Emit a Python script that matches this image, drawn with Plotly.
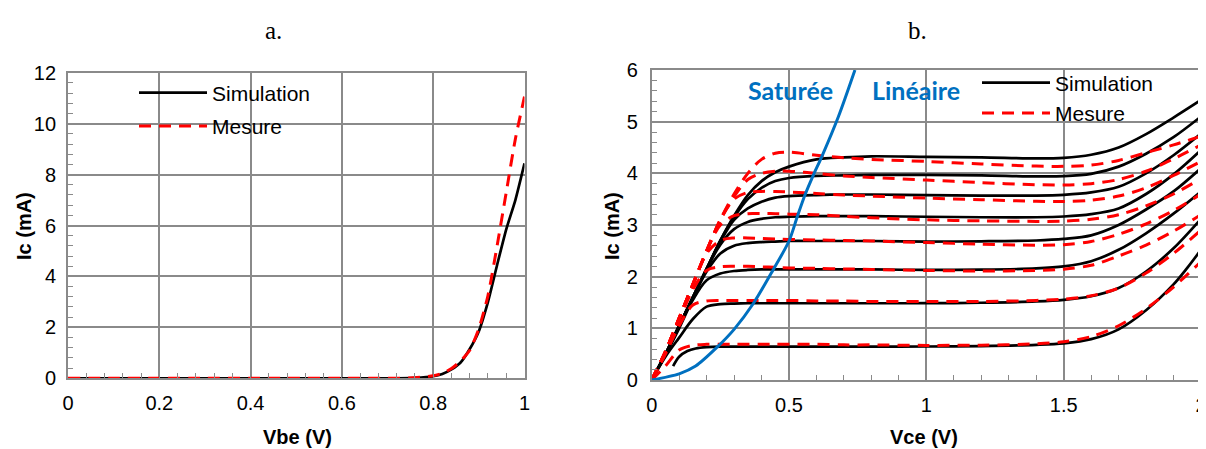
import plotly.graph_objects as go

# ---------------- Data: panel a (Ic vs Vbe) ----------------
VBE = [0, 0.1, 0.2, 0.3, 0.4, 0.5, 0.6, 0.7, 0.76, 0.8, 0.82, 0.84, 0.86, 0.88, 0.9, 0.92, 0.94, 0.96, 0.98, 1.0]
IC_SIM_A = [0, 0, 0, 0, 0, 0, 0, 0, 0.02, 0.08, 0.17, 0.35, 0.62, 1.15, 1.85, 3.0, 4.45, 5.85, 7.0, 8.44]
IC_MES_A = [0, 0, 0, 0, 0, 0, 0, 0, 0.02, 0.1, 0.2, 0.38, 0.68, 1.1, 1.95, 3.25, 5.2, 7.3, 9.4, 11.06]

# ---------------- Data: panel b (Ic vs Vce) ----------------
VCE = [0, 0.05, 0.1, 0.15, 0.2, 0.25, 0.3, 0.35, 0.4, 0.45, 0.5, 0.6, 0.7, 0.8,
       1.0, 1.2, 1.4, 1.5, 1.6, 1.7, 1.8, 1.9, 2.0]

VCE_S1 = [0.078, 0.1, 0.13, 0.16, 0.2, 0.25, 0.3, 0.4, 0.5, 0.6, 0.8, 1.0, 1.2, 1.4,
          1.5, 1.6, 1.7, 1.8, 1.9, 1.95, 2.0]
SIM_1 = [0.27, 0.45, 0.56, 0.61, 0.635, 0.645, 0.645, 0.645, 0.645, 0.645, 0.645, 0.648,
         0.655, 0.68, 0.71, 0.79, 0.98, 1.35, 1.85, 2.17, 2.52]
SIM_2 = [0, 0.45, 0.82, 1.18, 1.42, 1.47, 1.48, 1.485, 1.485, 1.485, 1.485, 1.485, 1.485,
         1.485, 1.487, 1.495, 1.52, 1.55, 1.62, 1.78, 2.1, 2.55, 3.12]
SIM_3 = [0, 0.48, 1.0, 1.55, 1.93, 2.06, 2.11, 2.13, 2.14, 2.14, 2.14, 2.14, 2.14, 2.14,
         2.13, 2.135, 2.16, 2.2, 2.3, 2.52, 2.84, 3.22, 3.65]
SIM_4 = [0, 0.5, 1.05, 1.6, 2.1, 2.45, 2.6, 2.65, 2.67, 2.68, 2.69, 2.69, 2.69, 2.69,
         2.68, 2.685, 2.7, 2.73, 2.8, 3.0, 3.3, 3.65, 4.1]
SIM_5 = [0, 0.5, 1.05, 1.6, 2.15, 2.62, 2.92, 3.06, 3.12, 3.15, 3.16, 3.17, 3.17, 3.17,
         3.16, 3.15, 3.15, 3.165, 3.21, 3.32, 3.6, 3.98, 4.45]
SIM_6 = [0, 0.5, 1.05, 1.6, 2.15, 2.68, 3.1, 3.32, 3.45, 3.53, 3.56, 3.58, 3.59, 3.59,
         3.58, 3.57, 3.57, 3.585, 3.63, 3.74, 4.0, 4.35, 4.77]
SIM_7 = [0, 0.5, 1.05, 1.6, 2.15, 2.7, 3.15, 3.5, 3.72, 3.85, 3.91, 3.95, 3.96, 3.97,
         3.97, 3.96, 3.94, 3.945, 3.99, 4.13, 4.38, 4.7, 5.1]
SIM_8 = [0, 0.5, 1.05, 1.6, 2.15, 2.7, 3.18, 3.58, 3.85, 4.02, 4.13, 4.27, 4.31, 4.33,
         4.32, 4.31, 4.29, 4.3, 4.36, 4.5, 4.76, 5.08, 5.42]

MES_1 = [0, 0.27, 0.58, 0.67, 0.69, 0.69, 0.69, 0.69, 0.69, 0.69, 0.69, 0.69, 0.68, 0.68,
         0.67, 0.675, 0.7, 0.74, 0.84, 1.05, 1.38, 1.8, 2.29]
MES_2 = [0, 0.5, 1.05, 1.45, 1.53, 1.54, 1.54, 1.54, 1.54, 1.54, 1.54, 1.53, 1.53, 1.52,
         1.52, 1.52, 1.54, 1.565, 1.63, 1.78, 2.07, 2.45, 2.9]
MES_3 = [0, 0.52, 1.15, 1.75, 2.12, 2.19, 2.2, 2.2, 2.19, 2.18, 2.17, 2.16, 2.15, 2.14,
         2.12, 2.11, 2.12, 2.145, 2.22, 2.4, 2.61, 2.88, 3.2]
MES_4 = [0, 0.55, 1.2, 1.85, 2.45, 2.7, 2.75, 2.75, 2.74, 2.73, 2.72, 2.71, 2.7, 2.69,
         2.66, 2.63, 2.61, 2.62, 2.68, 2.82, 3.02, 3.28, 3.6]
MES_5 = [0, 0.55, 1.2, 1.85, 2.5, 3.0, 3.18, 3.22, 3.22, 3.22, 3.21, 3.2, 3.17, 3.14,
         3.1, 3.08, 3.07, 3.075, 3.11, 3.2, 3.37, 3.6, 3.9]
MES_6 = [0, 0.55, 1.2, 1.85, 2.5, 3.1, 3.5, 3.63, 3.65, 3.65, 3.64, 3.61, 3.58, 3.56,
         3.52, 3.49, 3.46, 3.455, 3.48, 3.56, 3.72, 3.96, 4.23]
MES_7 = [0, 0.55, 1.2, 1.85, 2.5, 3.1, 3.55, 3.88, 4.0, 4.04, 4.04, 4.0, 3.95, 3.92,
         3.87, 3.82, 3.78, 3.775, 3.8, 3.88, 4.04, 4.28, 4.55]
MES_8 = [0, 0.55, 1.2, 1.85, 2.5, 3.1, 3.6, 4.0, 4.27, 4.39, 4.41, 4.35, 4.3, 4.27,
         4.23, 4.18, 4.14, 4.135, 4.16, 4.25, 4.4, 4.55, 4.72]

SAT_V = [0, 0.1, 0.16, 0.24, 0.3, 0.37, 0.443, 0.5, 0.53, 0.558, 0.589, 0.619, 0.68, 0.74]
SAT_I = [0, 0.12, 0.27, 0.645, 0.98, 1.48, 2.14, 2.69, 3.16, 3.58, 3.97, 4.32, 5.1, 6.0]

SIM_CURVES = [(VCE_S1, SIM_1), (VCE, SIM_2), (VCE, SIM_3), (VCE, SIM_4),
              (VCE, SIM_5), (VCE, SIM_6), (VCE, SIM_7), (VCE, SIM_8)]
MES_CURVES = [MES_1, MES_2, MES_3, MES_4, MES_5, MES_6, MES_7, MES_8]

# ---------------- Styles ----------------
BLACK = "#000000"
RED = "#FF0000"
BLUE = "#0070C0"
GRID = "#8A8A8A"
SANS = "Liberation Sans, Arial, sans-serif"
SERIF = "Liberation Serif, Times New Roman, serif"
DASH = "12px,8px"
W, H = 1206, 449
OFF = 8  # the page places the figure 8 px from the window's top-left corner


def px_x(p):
    return (p - OFF) / W


def px_y(p):
    return (H - (p - OFF)) / H


fig = go.Figure()

# panel a
fig.add_trace(go.Scatter(x=VBE, y=IC_SIM_A, mode="lines", name="Simulation",
                         line=dict(color=BLACK, width=2.7, shape="spline", smoothing=0.6),
                         xaxis="x", yaxis="y", legend="legend", legendgroup="simA"))
fig.add_trace(go.Scatter(x=VBE, y=IC_MES_A, mode="lines", name="Mesure",
                         line=dict(color=RED, width=3, dash=DASH, shape="spline", smoothing=0.6),
                         xaxis="x", yaxis="y", legend="legend", legendgroup="mesA"))

# panel b
for i, (vx, vy) in enumerate(SIM_CURVES):
    fig.add_trace(go.Scatter(x=vx, y=vy, mode="lines", name="Simulation",
                             line=dict(color=BLACK, width=2.7, shape="spline", smoothing=0.9),
                             xaxis="x2", yaxis="y2", legend="legend2",
                             showlegend=(i == 0)))
for i, vy in enumerate(MES_CURVES):
    fig.add_trace(go.Scatter(x=VCE, y=vy, mode="lines", name="Mesure",
                             line=dict(color=RED, width=3, dash=DASH, shape="spline", smoothing=0.9),
                             xaxis="x2", yaxis="y2", legend="legend2",
                             showlegend=(i == 0)))
fig.add_trace(go.Scatter(x=SAT_V, y=SAT_I, mode="lines", name="limite",
                         line=dict(color=BLUE, width=3, shape="spline", smoothing=0.8),
                         xaxis="x2", yaxis="y2", showlegend=False))

axis_common = dict(showgrid=True, gridcolor=GRID, gridwidth=1.5, zeroline=False,
                   showline=True, linecolor=GRID, linewidth=1.8, mirror=True,
                   ticks="inside", ticklen=5, tickcolor=GRID, tickwidth=1.2,
                   tickfont=dict(family=SANS, size=20, color="#000000"),
                   automargin=False, fixedrange=True)

fig.update_layout(
    width=W, height=H,
    margin=dict(l=0, r=0, t=0, b=0, pad=0, autoexpand=False),
    paper_bgcolor="white", plot_bgcolor="white",
    xaxis=dict(axis_common, domain=[px_x(68), px_x(524.5)], range=[0, 1], dtick=0.2,
               anchor="y", ticklabelstandoff=6,
               minor=dict(ticks="inside", ticklen=5, dtick=0.04, tickcolor=GRID, showgrid=False)),
    yaxis=dict(axis_common, domain=[px_y(378.3), px_y(72.7)], range=[0, 12], dtick=2,
               anchor="x", ticklabelstandoff=6,
               minor=dict(ticks="inside", ticklen=5, dtick=0.4, tickcolor=GRID, showgrid=False)),
    xaxis2=dict(axis_common, domain=[px_x(651.7), px_x(1201)], range=[0, 2], dtick=0.5,
                anchor="y2", ticklabelstandoff=6,
                minor=dict(ticks="inside", ticklen=5, dtick=0.1, tickcolor=GRID, showgrid=False)),
    yaxis2=dict(axis_common, domain=[px_y(380), px_y(70)], range=[0, 6], dtick=1,
                anchor="x2", ticklabelstandoff=8,
                minor=dict(ticks="inside", ticklen=5, dtick=0.2, tickcolor=GRID, showgrid=False)),
    legend=dict(x=px_x(134), y=px_y(72.5), xanchor="left", yanchor="top",
                bgcolor="rgba(255,255,255,0)", borderwidth=0, tracegroupgap=3,
                itemwidth=68,
                font=dict(family=SANS, size=21, color="#000000")),
    legend2=dict(x=px_x(977), y=px_y(62.5), xanchor="left", yanchor="top",
                 bgcolor="rgba(255,255,255,0)", borderwidth=0,
                 itemwidth=68,
                 font=dict(family=SANS, size=21, color="#000000")),
    showlegend=True,
)

# white backgrounds of the legend boxes (hide the gridlines behind the legends)
fig.add_shape(type="rect", xref="paper", yref="paper", layer="between",
              x0=px_x(112), x1=px_x(335), y0=px_y(143), y1=px_y(73.5),
              fillcolor="white", line=dict(width=0))
fig.add_shape(type="rect", xref="paper", yref="paper", layer="between",
              x0=px_x(966), x1=px_x(1172), y0=px_y(126), y1=px_y(71),
              fillcolor="white", line=dict(width=0))

annotations = [
    dict(text="a.", x=px_x(273), y=px_y(30)),
    dict(text="b.", x=px_x(917), y=px_y(30)),
]
for a in annotations:
    a.update(font=dict(family=SERIF, size=25, color="#000000"))

annotations += [
    dict(text="<b>Vbe (V)</b>", x=px_x(297), y=px_y(437),
         font=dict(family=SANS, size=20, color="#000000")),
    dict(text="<b>Vce (V)</b>", x=px_x(924), y=px_y(437),
         font=dict(family=SANS, size=20, color="#000000")),
    dict(text="<b>Ic (mA)</b>", x=px_x(24), y=px_y(226), textangle=-90,
         font=dict(family=SANS, size=20, color="#000000")),
    dict(text="<b>Ic (mA)</b>", x=px_x(612), y=px_y(226), textangle=-90,
         font=dict(family=SANS, size=20, color="#000000")),
]
for a in annotations:
    a.update(xref="paper", yref="paper", showarrow=False, xanchor="center", yanchor="middle")

annotations += [
    dict(text="<b>Saturée</b>", x=0.507, y=5.61, xref="x2", yref="y2",
         showarrow=False, xanchor="center", yanchor="middle",
         font=dict(family="Lato, Open Sans, sans-serif", size=25, color=BLUE)),
    dict(text="<b>Linéaire</b>", x=0.963, y=5.61, xref="x2", yref="y2",
         showarrow=False, xanchor="center", yanchor="middle",
         font=dict(family="Lato, Open Sans, sans-serif", size=25, color=BLUE)),
]
fig.update_layout(annotations=annotations)

fig.write_html("out.html")
